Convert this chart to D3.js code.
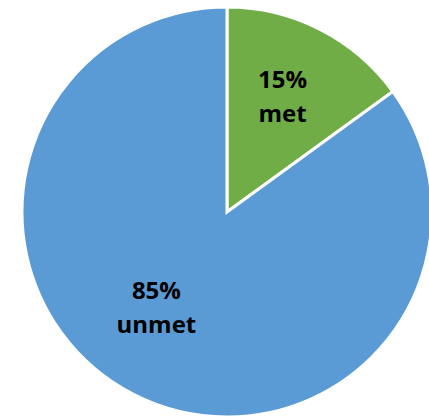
<!DOCTYPE html>
<html>
<head>
<meta charset="utf-8">
<script src="https://cdn.jsdelivr.net/npm/d3@7/dist/d3.min.js"></script>
<style>
  html, body { margin: 0; padding: 0; background: #fff; }
  svg { display: block; }
</style>
</head>
<body>
<svg id="chart" width="429" height="419"></svg>
<script>
// Share of needs met vs. unmet
const categories = ["met", "unmet"];
const values = [15, 85];
const colors = ["#70AD47", "#5B9BD5"];

const width = 429, height = 419;
const cx = 227, cy = 212, radius = 205;

const svg = d3.select("#chart");
const g = svg.append("g").attr("transform", `translate(${cx},${cy})`);

const data = categories.map((c, i) => ({ category: c, value: values[i], color: colors[i] }));
const total = d3.sum(values);

const pie = d3.pie().value(d => d.value).sort(null);
const arcs = pie(data);

const arc = d3.arc().innerRadius(0).outerRadius(radius);

g.selectAll("path.slice")
  .data(arcs)
  .join("path")
  .attr("class", "slice")
  .attr("d", arc)
  .attr("fill", d => d.data.color)
  .attr("stroke", "#fff")
  .attr("stroke-width", 3)
  .attr("stroke-linejoin", "miter");

// Labels placed inside each slice, two lines around the anchor point
const labelArc = d3.arc().innerRadius(118).outerRadius(118);
const nudge = { met: [2, -1.5], unmet: [-17, -1.5] };
const lineGap = 34;

const labels = g.selectAll("text.label")
  .data(arcs)
  .join("text")
  .attr("class", "label")
  .attr("text-anchor", "middle")
  .attr("font-family", "'Open Sans', sans-serif")
  .attr("font-weight", "bold")
  .attr("font-size", 24)
  .attr("fill", "#000")
  .attr("transform", d => {
    const [x, y] = labelArc.centroid(d);
    const [nx, ny] = nudge[d.data.category] || [0, 0];
    return `translate(${x + nx},${y + ny})`;
  });

labels.append("tspan")
  .attr("x", 0)
  .attr("y", -lineGap / 2)
  .text(d => Math.round(d.data.value / total * 100) + "%");

labels.append("tspan")
  .attr("x", 0)
  .attr("y", lineGap / 2)
  .text(d => d.data.category);
</script>
</body>
</html>
